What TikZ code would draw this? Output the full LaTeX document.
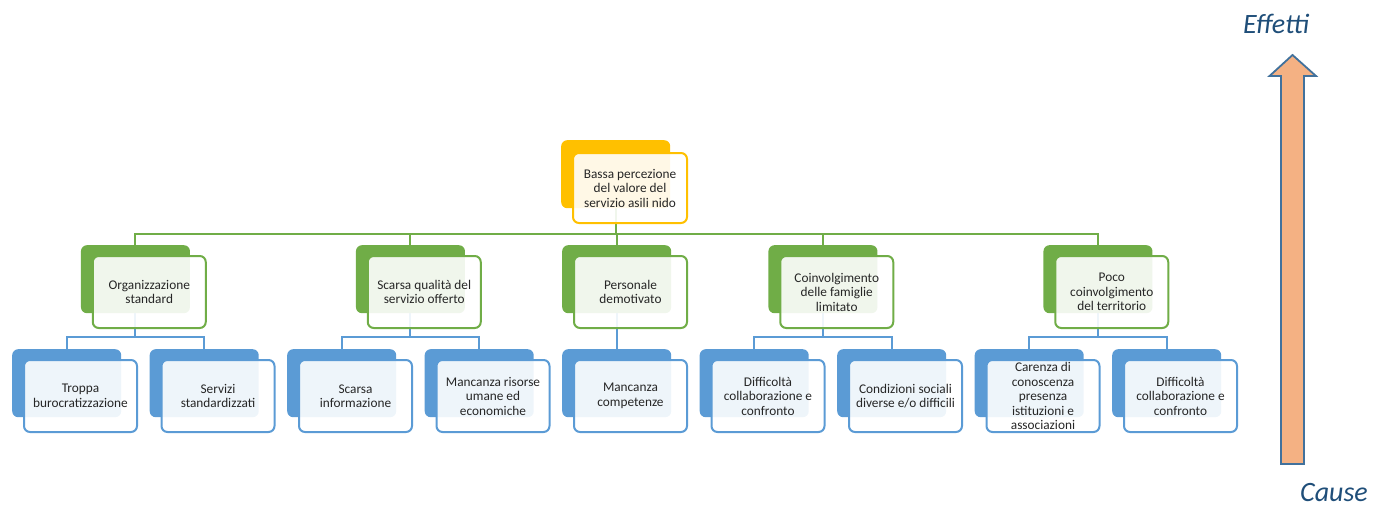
\documentclass[tikz,border=0pt]{standalone}
\usepackage{fontspec}
\setmainfont{Carlito}
\usetikzlibrary{backgrounds}
\definecolor{cgreen}{HTML}{70AD47}
\definecolor{cblue}{HTML}{5B9BD5}
\definecolor{corange}{HTML}{FFC000}
\definecolor{ctxt}{HTML}{262626}
\definecolor{clabel}{HTML}{1F4E79}
\definecolor{carrowfill}{HTML}{F4B183}
\definecolor{carrowline}{HTML}{41719C}
\newcommand\mkbox[5]{%
  \node[backbox, fill=#4] (#1b) at (#2,#3) {};
  \node[frontbox, draw=#4] (#1) at (#2+11,#3+10) {#5};
}
\begin{document}
\begin{tikzpicture}[x=1pt,y=-1pt,
  backbox/.style={rectangle, rounded corners=6pt, minimum width=109pt, minimum height=68pt, anchor=north west, inner sep=0pt},
  frontbox/.style={rectangle, rounded corners=6pt, minimum width=113pt, minimum height=72pt, anchor=north west, inner sep=1pt, align=center, fill=white, fill opacity=0.9, text opacity=1, line width=2pt, text=ctxt, font=\fontsize{13.3}{14.5}\selectfont},
  gline/.style={draw=cgreen, line width=2pt},
  bline/.style={draw=cblue, line width=2pt},
  lab/.style={text=clabel, font=\fontsize{28}{32}\selectfont\itshape, inner sep=0pt, anchor=base, text depth=0pt}]
\useasboundingbox (0,0) rectangle (1387,506);
\coordinate (gh) at (0,234);
\coordinate (bh) at (0,337);
% top
\node[backbox, fill=corange] (topb) at (561,140) {};
\node[frontbox, draw=corange, minimum height=70pt, minimum width=114pt] (top) at (572,152) {Bassa percezione\\del valore del\\servizio asili nido};
% green level
\mkbox{g1}{80.75}{245}{cgreen}{Organizzazione\\standard}
\mkbox{g2}{355.75}{245}{cgreen}{Scarsa qualità del\\servizio offerto}
\mkbox{g3}{562}{245}{cgreen}{Personale\\demotivato}
\mkbox{g4}{768.25}{245}{cgreen}{Coinvolgimento\\delle famiglie\\limitato}
\mkbox{g5}{1043.25}{245}{cgreen}{Poco\\coinvolgimento\\del territorio}
% blue level
\mkbox{b1}{12}{349}{cblue}{Troppa\\burocratizzazione}
\mkbox{b2}{149.5}{349}{cblue}{Servizi\\standardizzati}
\mkbox{b3}{287}{349}{cblue}{Scarsa\\informazione}
\mkbox{b4}{424.5}{349}{cblue}{Mancanza risorse\\umane ed\\economiche}
\mkbox{b5}{562}{349}{cblue}{Mancanza\\competenze}
\mkbox{b6}{699.5}{349}{cblue}{Difficoltà\\collaborazione e\\confronto}
\mkbox{b7}{837}{349}{cblue}{Condizioni sociali\\diverse e/o difficili}
\mkbox{b8}{974.5}{349}{cblue}{Carenza di\\conoscenza\\presenza\\istituzioni e\\associazioni}
\mkbox{b9}{1112}{349}{cblue}{Difficoltà\\collaborazione e\\confronto}
% connectors
\begin{scope}[on background layer]
\foreach \g in {g1,g2,g3,g4,g5}
  \draw[gline] (topb.south) |- (\g b.north |- gh) -- (\g b.north);
\draw[bline] (g1b.south) |- (b1b.north |- bh) -- (b1b.north);
\draw[bline] (g1b.south) |- (b2b.north |- bh) -- (b2b.north);
\draw[bline] (g2b.south) |- (b3b.north |- bh) -- (b3b.north);
\draw[bline] (g2b.south) |- (b4b.north |- bh) -- (b4b.north);
\draw[bline] (g3b.south) -- (b5b.north);
\draw[bline] (g4b.south) |- (b6b.north |- bh) -- (b6b.north);
\draw[bline] (g4b.south) |- (b7b.north |- bh) -- (b7b.north);
\draw[bline] (g5b.south) |- (b8b.north |- bh) -- (b8b.north);
\draw[bline] (g5b.south) |- (b9b.north |- bh) -- (b9b.north);
\end{scope}
% arrow
\draw[fill=carrowfill, draw=carrowline, line width=1.8pt, line join=miter]
  (1281,464) -- (1281,76) -- (1269.5,76) -- (1292.5,55) -- (1316,76) -- (1304,76) -- (1304,464) -- cycle;
\node[lab] (eff) at (1276,34) {Effetti};
\node[lab] (cause) at (1334,501) {Cause};
\end{tikzpicture}
\end{document}
